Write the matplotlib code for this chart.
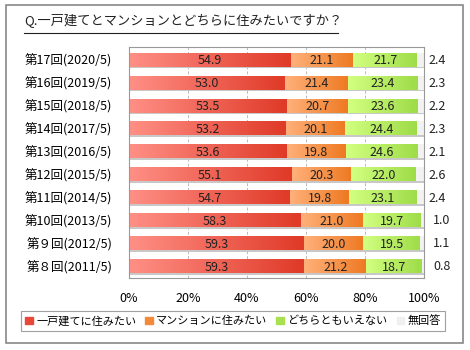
import numpy as np
import matplotlib.pyplot as plt
from matplotlib.colors import LinearSegmentedColormap
from matplotlib.patches import Rectangle
from matplotlib.lines import Line2D

plt.rcParams['font.family'] = ['Noto Sans CJK JP', 'DejaVu Sans']

# data (top row first)
rounds = ['第17回(2020/5)', '第16回(2019/5)', '第15回(2018/5)', '第14回(2017/5)',
          '第13回(2016/5)', '第12回(2015/5)', '第11回(2014/5)', '第10回(2013/5)',
          '第９回(2012/5)', '第８回(2011/5)']
house = [54.9, 53.0, 53.5, 53.2, 53.6, 55.1, 54.7, 58.3, 59.3, 59.3]
mansion = [21.1, 21.4, 20.7, 20.1, 19.8, 20.3, 19.8, 21.0, 20.0, 21.2]
neither = [21.7, 23.4, 23.6, 24.4, 24.6, 22.0, 23.1, 19.7, 19.5, 18.7]
no_answer = [2.4, 2.3, 2.2, 2.3, 2.1, 2.6, 2.4, 1.0, 1.1, 0.8]
series_names = ['一戸建てに住みたい', 'マンションに住みたい', 'どちらともいえない', '無回答']
xticks = [0, 20, 40, 60, 80, 100]

# gradient colours (left, right) and legend colour
grads = [('#ff8f85', '#e03a28'), ('#ffb07a', '#ee7a22'),
         ('#d2ff80', '#9edc48'), ('#f2f2f2', '#f2f2f2')]
legend_cols = ['#e8483a', '#f28a3a', '#a8e050', '#f0f0f0']

fig = plt.figure(figsize=(4.7, 3.5), dpi=100)
ax = fig.add_axes([129/470, 1-278/350, 295/470, 231/350])

y = np.arange(len(rounds))
h = 0.6
series = [house, mansion, neither, no_answer]
left = np.zeros(len(rounds))
for k, vals in enumerate(series):
    vals = np.array(vals)
    # shadow
    ax.barh(y + 0.08, vals, left=left + 0.4, height=h, color='#c8c8c8', zorder=1)
    bars = ax.barh(y, vals, left=left, height=h, color='none', zorder=3)
    cmap = LinearSegmentedColormap.from_list('g%d' % k, grads[k])
    grad = np.linspace(0, 1, 64).reshape(1, -1)
    for b in bars:
        x0, y0 = b.get_x(), b.get_y()
        ax.imshow(grad, cmap=cmap, aspect='auto', zorder=2,
                  extent=(x0, x0 + b.get_width(), y0 + b.get_height(), y0))
    if k < 3:
        for i, v in enumerate(vals):
            ax.text(left[i] + v / 2, y[i] + 0.05, '%.1f' % v, ha='center', va='center',
                    fontsize=9, color='#222222', zorder=4)
    else:
        for i, v in enumerate(vals):
            ax.text(104.5 if v >= 2 else 106, y[i] + 0.02, '%.1f' % v, ha='center',
                    va='center', fontsize=9, color='#222222', clip_on=False)
    left += vals

ax.set_xlim(0, 100)
ax.set_ylim(len(rounds) - 0.5, -0.55)
ax.set_yticks(y)
ax.set_yticklabels(rounds, fontsize=9)
ax.set_xticks(xticks)
ax.set_xticklabels(['%d%%' % t for t in xticks], fontsize=9)
ax.tick_params(length=0)
ax.tick_params(axis='y', pad=12)
ax.tick_params(axis='x', pad=10)
ax.grid(axis='x', color='#bbbbbb', linestyle=(0, (3, 2)), linewidth=0.7, zorder=0)
ax.set_axisbelow(True)
for s in ax.spines.values():
    s.set_color('#999999')

handles = [Rectangle((0, 0), 1, 1, color=c) for c in legend_cols]
leg = fig.legend(handles, series_names, loc='center', ncol=4, fontsize=8,
                 bbox_to_anchor=(233/470, 1-321/350), frameon=True, fancybox=False,
                 handlelength=0.7, handleheight=0.7, handletextpad=0.3, columnspacing=0.8,
                 borderpad=0.4)
leg.get_frame().set_edgecolor('#888888')
leg.get_frame().set_linewidth(0.8)

# title with underline
fig.text(24/470, 1-21/350, 'Q.一戸建てとマンションとどちらに住みたいですか？',
         fontsize=9.5, ha='left', va='center', color='#222222')
fig.add_artist(Line2D([24/470, 338/470], [1-33/350, 1-33/350], color='#222222', lw=0.8))

# outer border
fig.add_artist(Rectangle((6/470, 1-343/350), 457/470, 338/350, fill=False,
                         edgecolor='#888888', lw=1.2, transform=fig.transFigure))

fig.savefig('out.png', dpi=100)
